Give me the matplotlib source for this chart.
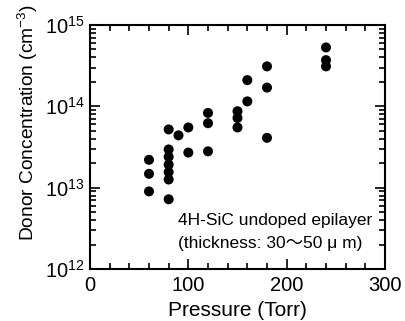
import matplotlib
matplotlib.use("Agg")
import matplotlib.pyplot as plt
from matplotlib.ticker import LogLocator, MultipleLocator, NullFormatter, FixedLocator

plt.rcParams["font.family"] = ["Liberation Sans", "Noto Sans CJK JP", "DejaVu Sans"]
plt.rcParams["mathtext.fontset"] = "custom"
plt.rcParams["mathtext.rm"] = "Liberation Sans"
plt.rcParams["mathtext.it"] = "Liberation Sans:italic"

# Pressure (Torr) and donor concentration (cm^-3)
pressure = [60, 60, 60,
            80, 80, 80, 80, 80, 80, 80,
            90,
            100, 100,
            120, 120, 120,
            150, 150, 150,
            160, 160,
            180, 180, 180,
            240, 240, 240]
donor = [2.2e13, 1.48e13, 9.0e12,
         5.2e13, 2.95e13, 2.4e13, 1.92e13, 1.55e13, 1.26e13, 7.2e12,
         4.4e13,
         5.5e13, 2.7e13,
         8.3e13, 6.2e13, 2.8e13,
         8.7e13, 7.2e13, 5.5e13,
         2.1e14, 1.15e14,
         3.1e14, 1.7e14, 4.1e13,
         5.3e14, 3.7e14, 3.1e14]

y_ticks = [1e12, 1e13, 1e14, 1e15]
y_tick_labels = [r"$\mathregular{10^{12}}$", r"$\mathregular{10^{13}}$",
                 r"$\mathregular{10^{14}}$", r"$\mathregular{10^{15}}$"]

fig = plt.figure(figsize=(4.05, 3.21), dpi=100)
ax = fig.add_axes([90 / 405, 52 / 321, 295 / 405, 244 / 321])

ax.scatter(pressure, donor, s=52, color="black", edgecolors="none", zorder=3)

ax.set_yscale("log")
ax.set_xlim(0, 300)
ax.set_ylim(1e12, 1e15)

ax.xaxis.set_major_locator(MultipleLocator(100))
ax.xaxis.set_minor_locator(MultipleLocator(20))
ax.yaxis.set_major_locator(FixedLocator(y_ticks))
ax.set_yticklabels(y_tick_labels)
ax.yaxis.set_minor_locator(LogLocator(base=10, subs=range(2, 10)))
ax.yaxis.set_minor_formatter(NullFormatter())

ax.tick_params(which="both", direction="in", top=True, right=True, width=1.2, colors="black")
ax.tick_params(which="major", length=7, labelsize=14.5)
ax.tick_params(axis="x", which="major", pad=5)
ax.tick_params(axis="y", which="major", pad=4)
ax.tick_params(which="minor", length=4)
for s in ax.spines.values():
    s.set_linewidth(1.5)

ax.set_xlabel("Pressure (Torr)", fontsize=15, labelpad=4.5)
ax.set_ylabel(r"Donor Concentration (cm$^{\mathregular{-3}}$)", fontsize=13.8)
ax.yaxis.set_label_coords(-0.17, 0.6)

ax.text(0.956, 0.198, "4H-SiC undoped epilayer", transform=ax.transAxes,
        ha="right", va="center", fontsize=12.5)
ax.text(0.925, 0.103, "(thickness: 30～50 μ m)", transform=ax.transAxes,
        ha="right", va="center", fontsize=12.5)

fig.savefig("out.png", dpi=100)
